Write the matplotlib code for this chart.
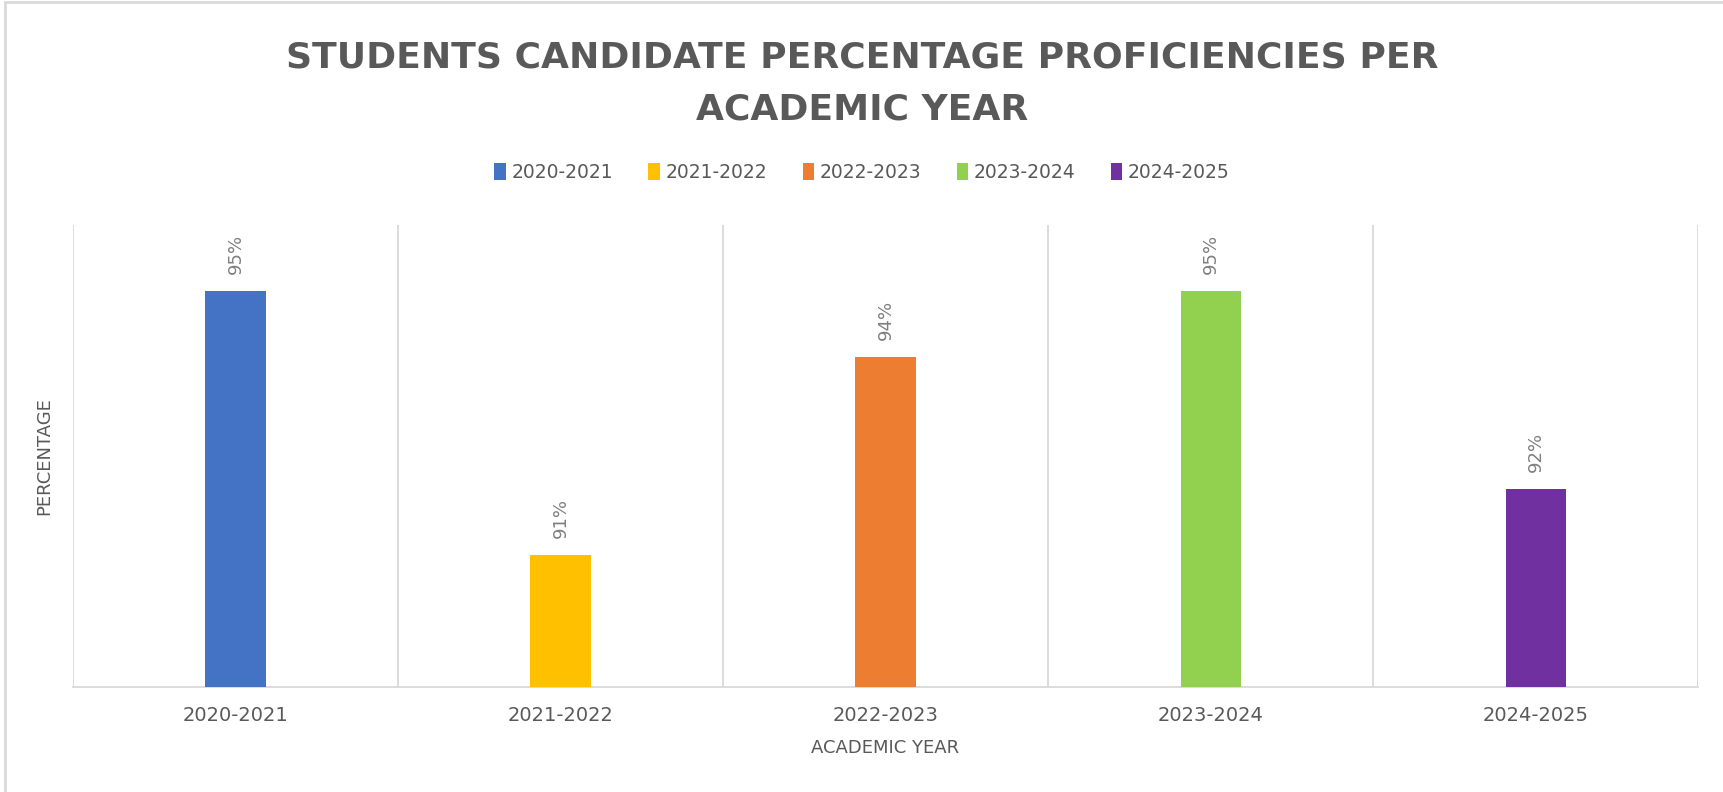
import matplotlib.pyplot as plt
from matplotlib.patches import Rectangle

# Datos del gráfico
years = ['2020-2021', '2021-2022', '2022-2023', '2023-2024', '2024-2025']
proficiency = [95, 91, 94, 95, 92]
colors = ['#4472C4', '#FFC000', '#ED7D31', '#92D050', '#7030A0']

gray = '#595959'
grid_gray = '#D9D9D9'

fig = plt.figure(figsize=(17.24, 7.92), dpi=100)
ax = fig.add_axes([0.0423, 0.1326, 0.9427, 0.5834])

x = list(range(len(years)))
for i, (yr, val, col) in enumerate(zip(years, proficiency, colors)):
    ax.bar(i, val, width=0.185, color=col, label=yr, zorder=3)
    ax.text(i, val + 0.25, f'{val}%', rotation=90, ha='center', va='bottom',
            fontsize=13, color='#7F7F7F')

ax.set_ylim(89, 96)
ax.set_xlim(-0.5, len(years) - 0.5)
ax.set_yticks([])
ax.set_xticks(x)
ax.set_xticklabels(years, fontsize=14, color=gray)
ax.tick_params(axis='x', length=0, pad=14)

# líneas verticales entre categorías
for b in range(len(years) + 1):
    ax.axvline(b - 0.5, color=grid_gray, lw=1.3, zorder=1)

for s in ['top', 'right', 'left']:
    ax.spines[s].set_visible(False)
ax.spines['bottom'].set_color(grid_gray)
ax.spines['bottom'].set_linewidth(1.3)

ax.set_xlabel('ACADEMIC YEAR', fontsize=13, color=gray, labelpad=10)
ax.set_ylabel('PERCENTAGE', fontsize=13, color=gray, labelpad=14)

fig.text(0.5, 0.928, 'STUDENTS CANDIDATE PERCENTAGE PROFICIENCIES PER',
         ha='center', va='center', fontsize=26, fontweight='bold', color=gray)
fig.text(0.5, 0.862, 'ACADEMIC YEAR',
         ha='center', va='center', fontsize=26, fontweight='bold', color=gray)

fig.legend(loc='center', bbox_to_anchor=(0.5, 0.782), ncol=5, frameon=False,
           fontsize=13.5, labelcolor=gray, handlelength=0.6, handleheight=1.0,
           handletextpad=0.3, columnspacing=1.9)

# borde del gráfico
fig.patches.append(Rectangle((0.003, -0.1), 1.1, 1.097, transform=fig.transFigure,
                             fill=False, edgecolor=grid_gray, lw=2))

fig.savefig('out.png', dpi=100)
